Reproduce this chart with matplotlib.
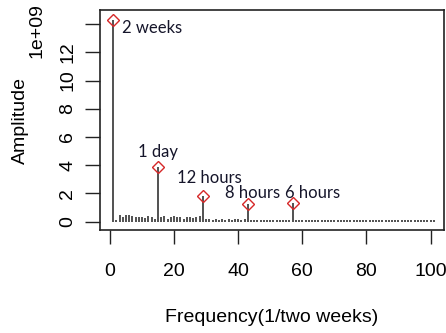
import numpy as np
import matplotlib.pyplot as plt

# frequency index (1/two weeks) and amplitude in units of 1e9
freq = list(range(1, 102))
amp = [14.3, 0.15, 0.45, 0.30, 0.50, 0.45, 0.40, 0.30, 0.35, 0.30,
       0.25, 0.40, 0.35, 0.20, 3.90, 0.30, 0.40, 0.20, 0.35, 0.40,
       0.30, 0.35, 0.20, 0.30, 0.30, 0.25, 0.35, 0.40, 1.85, 0.20,
       0.20, 0.15, 0.20, 0.15, 0.20, 0.15, 0.20, 0.15, 0.20, 0.20,
       0.15, 0.20, 1.28, 0.15, 0.10, 0.12, 0.10, 0.15, 0.10, 0.12,
       0.10, 0.15, 0.10, 0.12, 0.10, 0.15, 1.30, 0.15, 0.10, 0.10,
       0.12, 0.10, 0.10, 0.12, 0.10, 0.10, 0.12, 0.10, 0.10, 0.12,
       0.10, 0.10, 0.12, 0.10, 0.10, 0.12, 0.10, 0.10, 0.12, 0.10,
       0.10, 0.12, 0.10, 0.15, 0.10, 0.12, 0.15, 0.10, 0.10, 0.12,
       0.10, 0.10, 0.12, 0.10, 0.10, 0.10, 0.12, 0.10, 0.10, 0.12,
       0.15]
amp = np.array(amp) * 1e9

peak_freq = [1, 15, 29, 43, 57]
peak_amp = np.array([14.3, 3.90, 1.85, 1.28, 1.30]) * 1e9
peak_labels = ['2 weeks', '1 day', '12 hours', '8 hours', '6 hours']

plt.rcParams['font.family'] = ['Liberation Sans', 'DejaVu Sans']

fig = plt.figure(figsize=(4.46, 3.33), dpi=100)
ax = fig.add_axes([100/446, 103/333, 344/446, 220/333])

ax.vlines(freq, 0, amp, color='#333333', lw=1.2)
ax.plot(peak_freq, peak_amp, 'D', mfc='none', mec='#d62728', ms=6, mew=1)

# label positions next to the peaks
lab_x = [3.8, 15, 20.9, 35.9, 54.7]
lab_y = np.array([13.7, 4.94, 3.1, 2.04, 2.04]) * 1e9
lab_ha = ['left', 'center', 'left', 'left', 'left']
for s, x, y, h in zip(peak_labels, lab_x, lab_y, lab_ha):
    ax.text(x, y, s, ha=h, va='center', fontsize=12, color='#15152a',
            family='Lato')

ax.set_xlim(-3.1, 104.2)
ax.set_ylim(-0.59e9, 15.0e9)
ax.set_xticks([0, 20, 40, 60, 80, 100])
ax.set_yticks(np.arange(0, 16e9, 2e9))
ax.set_yticklabels(['0', '2', '4', '6', '8', '10', '12', ''],
                   rotation=90, va='center')
ax.tick_params(axis='x', direction='out', length=10, width=1, pad=14,
               labelsize=14, color='#222222')
ax.tick_params(axis='y', direction='out', length=11, width=1, pad=6,
               labelsize=14, color='#222222')
for sp in ax.spines.values():
    sp.set_linewidth(1.2)
    sp.set_color('#222222')

ax.set_xlabel('Frequency(1/two weeks)', fontsize=14, labelpad=21)
ax.set_ylabel('Amplitude', fontsize=14, labelpad=22)
fig.text(37/446, 1 - 31/333, '1e+09', rotation=90, ha='center', va='center',
         fontsize=14)

fig.savefig('out.png', dpi=100)
